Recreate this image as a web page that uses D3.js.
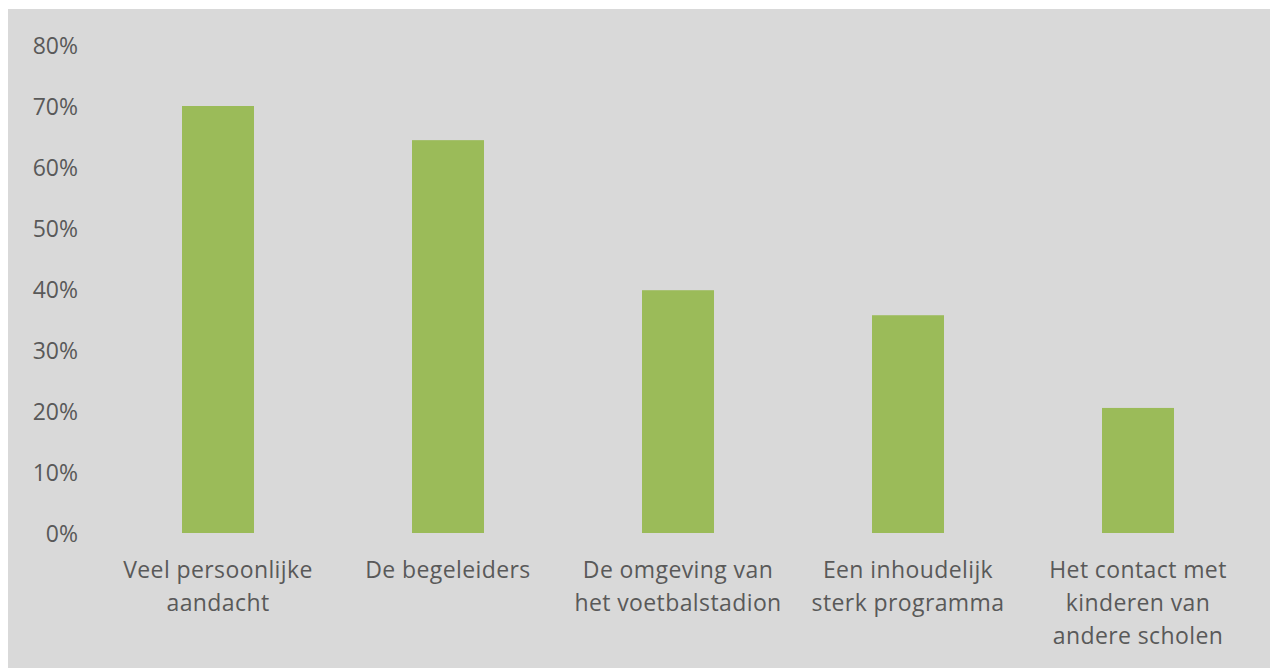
<!DOCTYPE html>
<html>
<head>
<meta charset="utf-8">
<script src="https://cdn.jsdelivr.net/npm/d3@7"></script>
<style>
  html, body { margin: 0; padding: 0; background: #ffffff; }
  .chart text { font-family: "Open Sans", sans-serif; fill: #595959; }
</style>
</head>
<body>
<div class="chart"></div>
<script>
const categories = [
    ["Veel persoonlijke", "aandacht"],
    ["De begeleiders"],
    ["De omgeving van", "het voetbalstadion"],
    ["Een inhoudelijk", "sterk programma"],
    ["Het contact met", "kinderen van", "andere scholen"]
]
const values = [0.70, 0.644, 0.398, 0.357, 0.205]
const yTicks = [0, 0.1, 0.2, 0.3, 0.4, 0.5, 0.6, 0.7, 0.8]

const W = 1270, H = 668
const margin = {top: 45, right: 17, bottom: 135, left: 103}
const width = W - margin.left - margin.right
const height = H - margin.top - margin.bottom

const root = d3.select(".chart")
    .append("svg")
        .attr("width", W)
        .attr("height", H)

root.append("rect")
    .attr("x", 8)
    .attr("y", 9)
    .attr("width", W - 8)
    .attr("height", H - 9)
    .attr("fill", "#d9d9d9")

const svg = root.append("g")
    .attr("transform", "translate(" + margin.left + "," + margin.top + ")")

const x = d3.scaleBand()
    .range([0, width])
    .domain(d3.range(categories.length))
    .paddingInner(0.687)
    .paddingOuter(0.3435)

const y = d3.scaleLinear()
    .domain([0, 0.8])
    .range([height, 0])

const yAxis = svg.append("g")
    .call(d3.axisLeft(y).tickValues(yTicks).tickFormat(d3.format(".0%")).tickSize(0).tickPadding(25))
yAxis.select(".domain").remove()
yAxis.selectAll("text")
    .style("font-size", "23px")
    .attr("dy", "0.35em")

svg.selectAll("rect.bar")
    .data(values)
    .enter()
    .append("rect")
        .attr("class", "bar")
        .attr("x", function(d, i) { return x(i) })
        .attr("y", function(d) { return y(d) })
        .attr("width", x.bandwidth())
        .attr("height", function(d) { return height - y(d) })
        .attr("fill", "#9bbb59")

const labels = svg.selectAll("text.cat")
    .data(categories)
    .enter()
    .append("text")
        .attr("class", "cat")
        .attr("text-anchor", "middle")
        .attr("x", function(d, i) { return x(i) + x.bandwidth() / 2 })
        .attr("y", height + 45)
        .style("font-size", "23px")
        .style("letter-spacing", "0.4px")

labels.selectAll("tspan")
    .data(function(d) { return d })
    .enter()
    .append("tspan")
        .attr("x", function() { return d3.select(this.parentNode).attr("x") })
        .attr("dy", function(d, i) { return i === 0 ? 0 : 33 })
        .text(function(d) { return d })
</script>
</body>
</html>
